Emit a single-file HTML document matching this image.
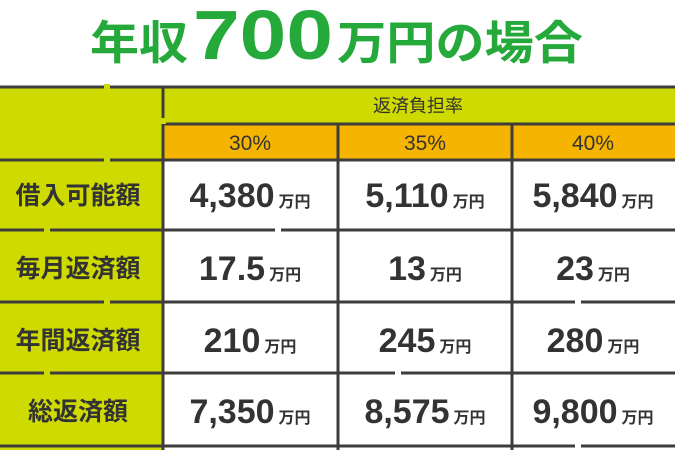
<!DOCTYPE html>
<html><head><meta charset="utf-8"><style>
html,body{margin:0;padding:0;background:#fff;}
svg{display:block;}
text{font-family:"Liberation Sans","Noto Sans CJK JP",sans-serif;}
</style></head><body>
<svg width="675" height="450" viewBox="0 0 675 450">
<rect x="0" y="0" width="675" height="450" fill="#fff"/>
<text y="59" fill="#25a93a" font-weight="bold" font-family="Noto Sans CJK JP,sans-serif"><tspan x="90" font-size="46" textLength="98" lengthAdjust="spacingAndGlyphs">年収</tspan><tspan x="193" font-size="70" font-family="Liberation Sans,sans-serif" textLength="140" lengthAdjust="spacingAndGlyphs">700</tspan><tspan x="337" font-size="46" textLength="246" lengthAdjust="spacingAndGlyphs">万円の場合</tspan></text>
<rect x="0" y="87" width="163" height="363" fill="#cfdb00"/>
<rect x="163" y="87" width="512" height="37" fill="#cfdb00"/>
<rect x="163" y="124" width="512" height="36" fill="#f5b400"/>
<rect x="165" y="161" width="510" height="289" fill="#fff"/>
<g stroke="#3d3d3d" stroke-width="3" stroke-linecap="round">
<line x1="0" y1="87" x2="675" y2="87"/>
<line x1="165" y1="124" x2="675" y2="124"/>
<line x1="0" y1="160" x2="675" y2="160"/>
<line x1="0" y1="230" x2="675" y2="230"/>
<line x1="0" y1="302" x2="675" y2="302"/>
<line x1="0" y1="373" x2="675" y2="373"/>
<line x1="0" y1="446" x2="675" y2="446"/>
<line x1="163" y1="87" x2="163" y2="450"/>
<line x1="338" y1="124" x2="338" y2="450"/>
<line x1="512" y1="124" x2="512" y2="450"/>
</g>
<g fill="#cfdb00">
<rect x="104" y="84" width="6" height="6"/><rect x="104" y="157" width="6" height="6"/>
<rect x="44" y="227" width="6" height="6"/><rect x="104" y="299" width="6" height="6"/>
<rect x="44" y="370" width="6" height="6"/>
</g>
<g fill="#fff">
<rect x="275" y="227" width="6" height="6"/><rect x="575" y="299" width="6" height="6"/>
<rect x="395" y="370" width="6" height="6"/><rect x="575" y="443" width="6" height="6"/>
<rect x="160" y="118" width="6" height="6" fill="#cfdb00"/>
</g>
<g fill="#333" text-anchor="middle">
<text x="418" y="112" font-size="18">返済負担率</text>
<text x="250" y="150" font-size="21">30%</text>
<text x="425" y="150" font-size="21">35%</text>
<text x="593" y="150" font-size="21">40%</text>
<g font-size="25" font-weight="bold">
<text x="78" y="204">借入可能額</text>
<text x="78" y="277">毎月返済額</text>
<text x="78" y="349">年間返済額</text>
<text x="78" y="420">総返済額</text>
</g>
</g>
<g fill="#333" font-weight="bold" text-anchor="middle">
<text x="250" y="207"><tspan font-size="34">4,380</tspan><tspan font-size="16" dx="4">万円</tspan></text>
<text x="425" y="207"><tspan font-size="34">5,110</tspan><tspan font-size="16" dx="4">万円</tspan></text>
<text x="593" y="207"><tspan font-size="34">5,840</tspan><tspan font-size="16" dx="4">万円</tspan></text>
<text x="250" y="280"><tspan font-size="34">17.5</tspan><tspan font-size="16" dx="4">万円</tspan></text>
<text x="425" y="280"><tspan font-size="34">13</tspan><tspan font-size="16" dx="4">万円</tspan></text>
<text x="593" y="280"><tspan font-size="34">23</tspan><tspan font-size="16" dx="4">万円</tspan></text>
<text x="250" y="352"><tspan font-size="34">210</tspan><tspan font-size="16" dx="4">万円</tspan></text>
<text x="425" y="352"><tspan font-size="34">245</tspan><tspan font-size="16" dx="4">万円</tspan></text>
<text x="593" y="352"><tspan font-size="34">280</tspan><tspan font-size="16" dx="4">万円</tspan></text>
<text x="250" y="423"><tspan font-size="34">7,350</tspan><tspan font-size="16" dx="4">万円</tspan></text>
<text x="425" y="423"><tspan font-size="34">8,575</tspan><tspan font-size="16" dx="4">万円</tspan></text>
<text x="593" y="423"><tspan font-size="34">9,800</tspan><tspan font-size="16" dx="4">万円</tspan></text>
</g>
</svg>
</body></html>
